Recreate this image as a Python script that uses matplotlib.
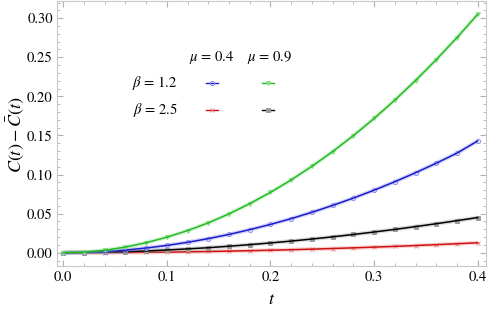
import matplotlib
matplotlib.use("Agg")
from matplotlib import pyplot as plt
from matplotlib.lines import Line2D
from matplotlib.ticker import MultipleLocator

plt.rcParams['font.family'] = ['STIXGeneral', 'DejaVu Serif']
plt.rcParams['mathtext.fontset'] = 'stix'

# values, t step 0.02
t = [0.00, 0.02, 0.04, 0.06, 0.08, 0.10, 0.12, 0.14, 0.16, 0.18, 0.20,
     0.22, 0.24, 0.26, 0.28, 0.30, 0.32, 0.34, 0.36, 0.38, 0.40]

mu04_beta12 = [0.0, 0.0004, 0.0015, 0.0034, 0.0060, 0.0093, 0.0133, 0.0180,
               0.0234, 0.0295, 0.0362, 0.0436, 0.0517, 0.0605, 0.0699, 0.0800,
               0.0908, 0.1023, 0.1145, 0.1274, 0.1430]
mu09_beta12 = [0.0, 0.0008, 0.0031, 0.0072, 0.0128, 0.0198, 0.0283, 0.0382,
               0.0497, 0.0628, 0.0772, 0.0931, 0.1105, 0.1294, 0.1498, 0.1717,
               0.1952, 0.2203, 0.2470, 0.2752, 0.3050]
mu04_beta25 = [0.0, 0.00003, 0.00013, 0.00029, 0.00051, 0.00079, 0.00114,
               0.00156, 0.00203, 0.00257, 0.00318, 0.00384, 0.00457, 0.00537,
               0.00622, 0.00715, 0.00813, 0.00918, 0.01029, 0.01147, 0.0127]
mu09_beta25 = [0.0, 0.00018, 0.00064, 0.00135, 0.0023, 0.0035, 0.0049, 0.0064,
               0.0083, 0.0103, 0.0125, 0.0149, 0.0175, 0.0203, 0.0233, 0.0265,
               0.0298, 0.0334, 0.0371, 0.0410, 0.0450]

# (values, line colour, marker, marker colour, filled)
series = [
    (mu04_beta25, '#cc1111', 'x', '#ee8888', True),
    (mu09_beta25, '#000000', 's', '#999999', True),
    (mu04_beta12, '#1c1ccc', 'o', '#8c8cf0', False),
    (mu09_beta12, '#22bb22', 'v', '#8fdd8f', True),
]

fig = plt.figure(figsize=(4.88, 3.14), dpi=100)
ax = fig.add_axes([57 / 488, 1 - 266 / 314, 429 / 488, 265 / 314])

for vals, col, mk, mcol, filled in series:
    ax.plot(t, vals, color=mcol, lw=3.0, alpha=0.35, solid_capstyle='butt')
    ax.plot(t, vals, linestyle='none', marker=mk, ms=3,
            markerfacecolor=mcol if filled else 'none',
            markeredgecolor=mcol, markeredgewidth=0.7)
    ax.plot(t, vals, color=col, lw=1.1)

ax.set_xlim(-0.006, 0.408)
ax.set_ylim(-0.017, 0.322)
ax.xaxis.set_major_locator(MultipleLocator(0.1))
ax.xaxis.set_minor_locator(MultipleLocator(0.02))
ax.yaxis.set_major_locator(MultipleLocator(0.05))
ax.yaxis.set_minor_locator(MultipleLocator(0.01))
ax.xaxis.set_major_formatter(lambda v, p: f'{v:.1f}')
ax.yaxis.set_major_formatter(lambda v, p: f'{v:.2f}')

for s in ax.spines.values():
    s.set_color('#c8c8c8')
    s.set_linewidth(0.8)
ax.tick_params(which='both', direction='in', top=True, right=True,
               color='#b0b0b0', labelsize=10.5, pad=3)
ax.tick_params(which='major', length=4)
ax.tick_params(which='minor', length=2)

fig.text(15 / 488, 1 - 135 / 314, r'$C(t)-\bar{C}(t)$', rotation=90,
         ha='center', va='center', fontsize=13)
fig.text(272 / 488, 1 - 300 / 314, r'$t$', ha='center', va='center',
         fontsize=13)

# legend grid
fig.text(212 / 488, 1 - 57 / 314, r'$\mu$ = 0.4', ha='center', va='center', fontsize=10.5)
fig.text(270 / 488, 1 - 57 / 314, r'$\mu$ = 0.9', ha='center', va='center', fontsize=10.5)
fig.text(155 / 488, 1 - 83 / 314, r'$\beta$ = 1.2', ha='center', va='center', fontsize=10.5)
fig.text(155 / 488, 1 - 110 / 314, r'$\beta$ = 2.5', ha='center', va='center', fontsize=10.5)

handles = [
    (212, 83, series[2]),
    (268, 83, series[3]),
    (212, 110, series[0]),
    (268, 110, series[1]),
]
for hx, hy, (vals, col, mk, mcol, filled) in handles:
    yy = 1 - hy / 314
    fig.add_artist(Line2D([(hx - 6) / 488, (hx + 6) / 488], [yy, yy],
                          color=col, lw=1.0, transform=fig.transFigure))
    fig.add_artist(Line2D([hx / 488], [yy], linestyle='none', marker=mk,
                          ms=3, markerfacecolor=mcol if filled else 'none',
                          markeredgecolor=mcol, markeredgewidth=0.7,
                          transform=fig.transFigure))

fig.savefig('out.png', dpi=100)
